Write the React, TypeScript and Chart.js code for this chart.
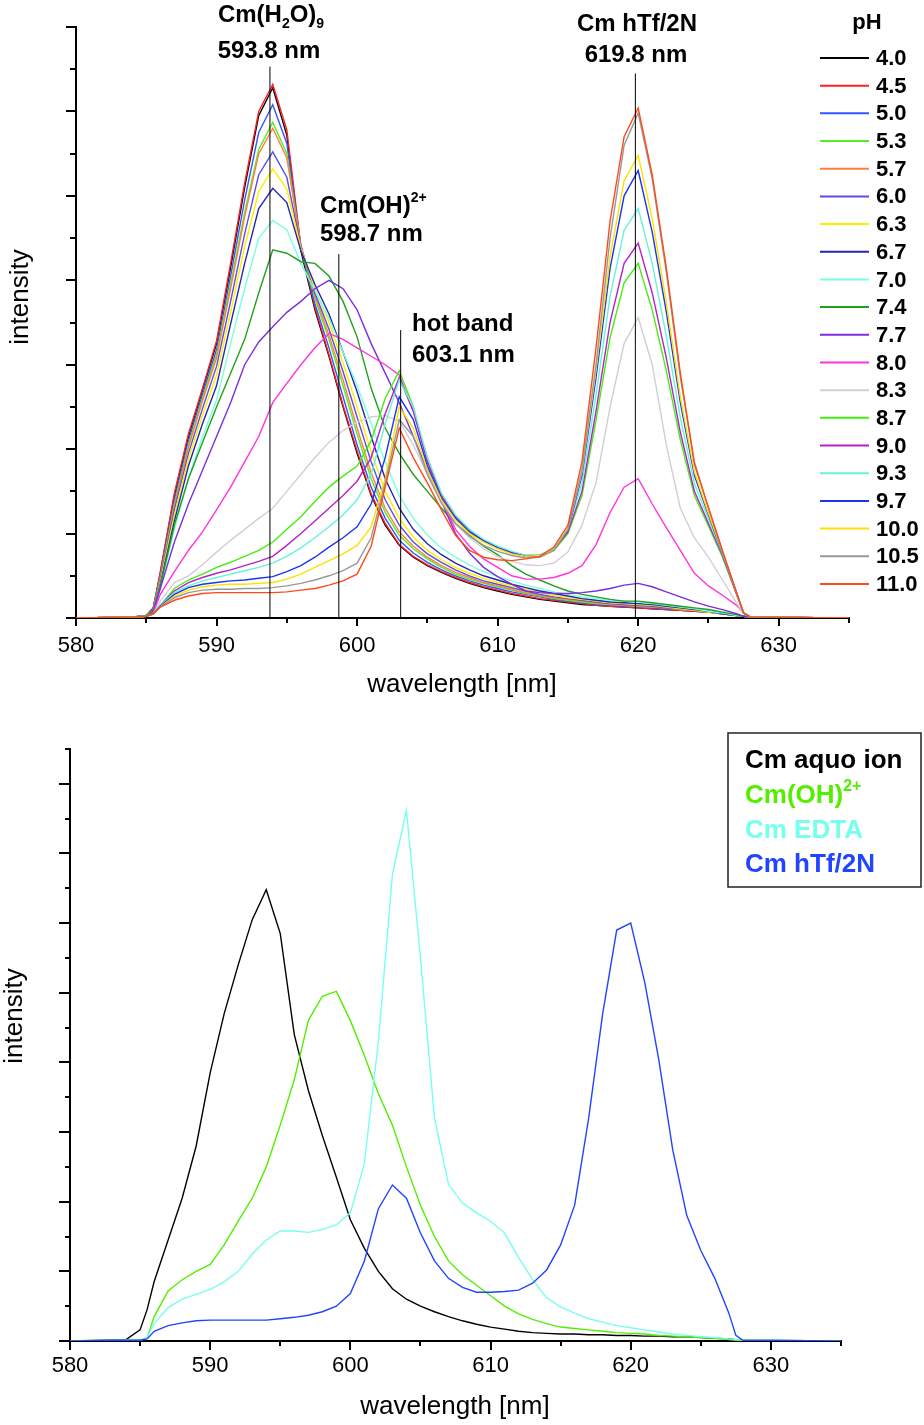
import React, { useEffect, useRef } from 'react';
import { Chart, registerables } from 'chart.js';

Chart.register(...registerables);

const FF = '"Liberation Sans", Arial, Helvetica, sans-serif';

// ---------- shared wavelength grid (nm) ----------
const wavelengths = [
  580, 584, 585, 585.5,
  586, 587, 588, 589, 590, 591, 592, 593, 594, 595,
  596, 597, 598, 599, 600, 601, 602, 603, 604, 605,
  606, 607, 608, 609, 610, 611, 612, 613, 614, 615,
  616, 617, 618, 619, 620, 621, 622, 623, 624, 625,
  626, 627,
  627.5, 628, 635,
];

// ---------- top panel: pH series ----------
const phLabels = ['4.0', '4.5', '5.0', '5.3', '5.7', '6.0', '6.3', '6.7', '7.0', '7.4', '7.7', '8.0', '8.3', '8.7', '9.0', '9.3', '9.7', '10.0', '10.5', '11.0'];
const phColors = ['#000000', '#ff2020', '#3355ff', '#55ee22', '#ff7f3f', '#5a4ee6', '#ffee00', '#2525b5', '#7affe0', '#20a020', '#7a2ee0', '#ff33dd', '#d2ced8', '#44ee11', '#b522c8', '#66f2dd', '#1a35ee', '#ffe000', '#999999', '#ff4a1a'];

const ph40 = [0, 0.01, 0.03, 0.12,
  0.53, 1.45, 2.15, 2.7, 3.25, 4.15, 5.1, 5.95, 6.28, 5.72,
  4.35, 3.65, 3.1, 2.5, 1.95, 1.45, 1.1, 0.86, 0.72, 0.62,
  0.54, 0.47, 0.41, 0.36, 0.32, 0.28, 0.25, 0.22, 0.2, 0.18,
  0.16, 0.15, 0.14, 0.13, 0.12, 0.11, 0.1, 0.09, 0.08, 0.07,
  0.05, 0.03, 0.02, 0.01, 0];
const ph45 = [0, 0.01, 0.03, 0.12,
  0.55, 1.48, 2.18, 2.72, 3.28, 4.2, 5.15, 6.0, 6.32, 5.78,
  4.4, 3.68, 3.12, 2.52, 1.98, 1.47, 1.12, 0.87, 0.73, 0.63,
  0.55, 0.48, 0.42, 0.37, 0.33, 0.29, 0.26, 0.23, 0.21, 0.19,
  0.17, 0.15, 0.14, 0.13, 0.12, 0.11, 0.1, 0.09, 0.08, 0.07,
  0.05, 0.03, 0.02, 0.01, 0];
const ph50 = [0, 0.01, 0.03, 0.11,
  0.5, 1.4, 2.1, 2.65, 3.18, 4.05, 4.95, 5.75, 6.08, 5.62,
  4.4, 3.72, 3.2, 2.62, 2.05, 1.55, 1.18, 0.92, 0.77, 0.66,
  0.57, 0.5, 0.44, 0.39, 0.35, 0.31, 0.28, 0.25, 0.22, 0.2,
  0.18, 0.16, 0.15, 0.14, 0.13, 0.12, 0.11, 0.1, 0.09, 0.07,
  0.05, 0.03, 0.02, 0.01, 0];
const ph53 = [0, 0.01, 0.03, 0.1,
  0.48, 1.35, 2.05, 2.6, 3.12, 3.95, 4.8, 5.55, 5.87, 5.5,
  4.4, 3.78, 3.3, 2.75, 2.18, 1.65, 1.25, 0.98, 0.82, 0.7,
  0.6, 0.52, 0.46, 0.41, 0.37, 0.33, 0.29, 0.26, 0.23, 0.21,
  0.19, 0.17, 0.16, 0.15, 0.14, 0.13, 0.12, 0.1, 0.09, 0.07,
  0.05, 0.03, 0.02, 0.01, 0];
const ph57 = [0, 0.01, 0.03, 0.1,
  0.47, 1.33, 2.02, 2.57, 3.08, 3.9, 4.75, 5.5, 5.8, 5.45,
  4.42, 3.82, 3.35, 2.82, 2.25, 1.72, 1.3, 1.02, 0.85, 0.72,
  0.62, 0.54, 0.48, 0.42, 0.38, 0.34, 0.3, 0.27, 0.24, 0.22,
  0.2, 0.18, 0.16, 0.15, 0.14, 0.13, 0.12, 0.1, 0.09, 0.07,
  0.05, 0.03, 0.02, 0.01, 0];
const ph60 = [0, 0.01, 0.03, 0.1,
  0.45, 1.28, 1.95, 2.48, 2.98, 3.75, 4.55, 5.25, 5.52, 5.22,
  4.4, 3.85, 3.42, 2.92, 2.38, 1.85, 1.4, 1.1, 0.9, 0.76,
  0.66, 0.57, 0.5, 0.44, 0.4, 0.36, 0.32, 0.28, 0.25, 0.23,
  0.21, 0.19, 0.17, 0.16, 0.15, 0.14, 0.12, 0.11, 0.09, 0.07,
  0.05, 0.03, 0.02, 0.01, 0];
const ph63 = [0, 0.01, 0.03, 0.09,
  0.43, 1.22, 1.88, 2.4, 2.88, 3.62, 4.4, 5.05, 5.32, 5.08,
  4.38, 3.9, 3.5, 3.02, 2.5, 1.97, 1.5, 1.18, 0.96, 0.8,
  0.69, 0.6, 0.53, 0.47, 0.42, 0.38, 0.34, 0.3, 0.27, 0.24,
  0.22, 0.2, 0.18, 0.17, 0.16, 0.15, 0.13, 0.11, 0.09, 0.07,
  0.05, 0.03, 0.02, 0.01, 0];
const ph67 = [0, 0.01, 0.03, 0.09,
  0.4, 1.15, 1.8, 2.3, 2.75, 3.48, 4.2, 4.85, 5.09, 4.92,
  4.35, 3.95, 3.6, 3.15, 2.68, 2.15, 1.65, 1.3, 1.05, 0.88,
  0.75, 0.65, 0.57, 0.5, 0.45, 0.4, 0.36, 0.32, 0.29, 0.26,
  0.23, 0.21, 0.19, 0.18, 0.17, 0.16, 0.14, 0.12, 0.1, 0.08,
  0.05, 0.03, 0.02, 0.01, 0];
const ph70 = [0, 0.01, 0.03, 0.08,
  0.37, 1.05, 1.65, 2.15, 2.58, 3.25, 3.9, 4.5, 4.71, 4.6,
  4.2, 3.88, 3.55, 3.15, 2.75, 2.3, 1.85, 1.45, 1.18, 0.98,
  0.83, 0.72, 0.63, 0.55, 0.49, 0.44, 0.39, 0.35, 0.31, 0.28,
  0.25, 0.23, 0.21, 0.2, 0.19, 0.17, 0.15, 0.13, 0.11, 0.08,
  0.06, 0.03, 0.02, 0.01, 0];
const ph74 = [0, 0.01, 0.03, 0.08,
  0.38, 1.1, 1.65, 2.08, 2.5, 2.9, 3.3, 3.85, 4.36, 4.32,
  4.22, 4.2, 4.05, 3.75, 3.33, 2.72, 2.25, 1.95, 1.7, 1.5,
  1.3, 1.12, 0.98, 0.85, 0.75, 0.62, 0.52, 0.45, 0.38, 0.32,
  0.28, 0.25, 0.22, 0.2, 0.2, 0.18, 0.16, 0.14, 0.12, 0.1,
  0.07, 0.04, 0.02, 0.01, 0];
const ph77 = [0, 0.01, 0.02, 0.07,
  0.35, 0.9, 1.35, 1.75, 2.15, 2.55, 3.0, 3.27, 3.45, 3.62,
  3.75, 3.9, 4.0, 3.9, 3.65, 3.25, 2.9, 2.55, 2.15, 1.75,
  1.38, 1.0, 0.77, 0.6, 0.49, 0.4, 0.32, 0.3, 0.29, 0.29,
  0.3, 0.32, 0.35, 0.39, 0.41, 0.37, 0.31, 0.25, 0.19, 0.14,
  0.1, 0.05, 0.02, 0.01, 0];
const ph80 = [0, 0.01, 0.02, 0.06,
  0.28, 0.55, 0.8, 1.02, 1.28, 1.55, 1.85, 2.15, 2.55, 2.78,
  3.0, 3.2, 3.37, 3.3, 3.2, 3.1, 3.0, 2.88, 2.45, 1.9,
  1.4, 1.05, 0.85, 0.7, 0.6, 0.5, 0.46, 0.46, 0.48, 0.53,
  0.62, 0.87, 1.25, 1.55, 1.65, 1.35, 1.07, 0.8, 0.53, 0.38,
  0.27, 0.15, 0.06, 0.01, 0];
const ph83 = [0, 0.01, 0.02, 0.05,
  0.2, 0.42, 0.5, 0.63, 0.78, 0.92, 1.05, 1.18, 1.3, 1.5,
  1.7, 1.9, 2.08, 2.22, 2.32, 2.38, 2.4, 2.33, 2.05, 1.7,
  1.38, 1.12, 0.95, 0.82, 0.73, 0.67, 0.63, 0.62, 0.65, 0.78,
  1.1, 1.6, 2.5, 3.25, 3.56, 3.0, 2.05, 1.3, 0.95, 0.72,
  0.45, 0.18, 0.05, 0.01, 0];
const ph87 = [0, 0.01, 0.02, 0.05,
  0.15, 0.35, 0.45, 0.52, 0.6, 0.66, 0.73, 0.8, 0.9, 1.05,
  1.2, 1.38, 1.55, 1.68, 1.8, 2.1, 2.6, 2.93, 2.5, 1.85,
  1.45, 1.2, 1.03, 0.92, 0.83, 0.77, 0.73, 0.73, 0.8, 1.0,
  1.45, 2.34, 3.32, 3.97, 4.2, 3.65, 2.93, 2.11, 1.45, 1.09,
  0.72, 0.28, 0.06, 0.01, 0];
const ph90 = [0, 0.01, 0.02, 0.05,
  0.15, 0.32, 0.42, 0.48, 0.53, 0.57, 0.62, 0.67, 0.73, 0.86,
  1.0, 1.15, 1.3, 1.45, 1.62, 1.9, 2.42, 2.85, 2.45, 1.85,
  1.45, 1.2, 1.03, 0.92, 0.84, 0.78, 0.74, 0.74, 0.81, 1.02,
  1.5, 2.45, 3.5, 4.2, 4.44, 3.85, 3.08, 2.2, 1.5, 1.12,
  0.74, 0.28, 0.06, 0.01, 0];
const ph93 = [0, 0.01, 0.02, 0.05,
  0.15, 0.3, 0.38, 0.44, 0.48, 0.52, 0.56, 0.6, 0.65, 0.73,
  0.83, 0.95, 1.08, 1.22, 1.4, 1.7, 2.3, 2.82, 2.5, 1.9,
  1.48, 1.22, 1.05, 0.93, 0.85, 0.79, 0.74, 0.75, 0.82, 1.05,
  1.59, 2.64, 3.81, 4.59, 4.85, 4.2, 3.34, 2.37, 1.59, 1.17,
  0.76, 0.3, 0.06, 0.01, 0];
const ph97 = [0, 0.01, 0.02, 0.05,
  0.14, 0.28, 0.36, 0.4, 0.42, 0.44, 0.45, 0.47, 0.49, 0.55,
  0.62, 0.72, 0.84, 0.95, 1.08, 1.35, 1.9, 2.62, 2.35, 1.8,
  1.42, 1.18, 1.02, 0.91, 0.83, 0.77, 0.73, 0.74, 0.81, 1.04,
  1.69, 2.85, 4.14, 5.0, 5.3, 4.57, 3.63, 2.55, 1.69, 1.22,
  0.77, 0.3, 0.06, 0.01, 0];
const ph100 = [0, 0.01, 0.02, 0.05,
  0.13, 0.26, 0.33, 0.37, 0.39, 0.4, 0.4, 0.41, 0.42, 0.46,
  0.52, 0.6, 0.68, 0.76, 0.86, 1.08, 1.65, 2.5, 2.25, 1.75,
  1.4, 1.16, 1.0, 0.9, 0.82, 0.76, 0.73, 0.74, 0.81, 1.06,
  1.73, 2.94, 4.28, 5.18, 5.48, 4.73, 3.74, 2.62, 1.73, 1.24,
  0.78, 0.3, 0.06, 0.01, 0];
const ph105 = [0, 0.01, 0.02, 0.05,
  0.13, 0.24, 0.3, 0.33, 0.34, 0.34, 0.35, 0.35, 0.36, 0.38,
  0.41, 0.45, 0.5, 0.56, 0.65, 0.95, 1.6, 2.35, 2.15, 1.7,
  1.36, 1.12, 0.97, 0.86, 0.79, 0.74, 0.71, 0.72, 0.8, 1.05,
  1.75, 3.0, 4.5, 5.6, 5.98, 5.2, 4.1, 2.85, 1.85, 1.3,
  0.78, 0.3, 0.06, 0.01, 0];
const ph110 = [0, 0.01, 0.02, 0.05,
  0.13, 0.21, 0.26, 0.29, 0.3, 0.3, 0.3, 0.3, 0.3, 0.31,
  0.33, 0.35, 0.39, 0.44, 0.52, 0.85, 1.55, 2.25, 1.9, 1.6,
  1.28, 0.98, 0.8, 0.72, 0.69, 0.68, 0.7, 0.73, 0.84, 1.1,
  1.85, 3.2, 4.7, 5.7, 6.04, 5.25, 4.15, 2.9, 1.82, 1.31,
  0.8, 0.3, 0.06, 0.01, 0];

const phSeries = [ph40, ph45, ph50, ph53, ph57, ph60, ph63, ph67, ph70, ph74, ph77, ph80, ph83, ph87, ph90, ph93, ph97, ph100, ph105, ph110];

// marker lines (wavelength, top of line in intensity units)
const markerWavelengths = [593.8, 598.7, 603.1, 619.8];
const markerHeights = [6.53, 4.31, 3.41, 6.45];

// ---------- bottom panel: component spectra ----------
const compLabels = ['Cm aquo ion', 'Cm(OH)', 'Cm EDTA', 'Cm hTf/2N'];
const compColors = ['#000000', '#55ee00', '#77ffee', '#2244ff'];

const aquo = [0, 0.02, 0.16, 0.45,
  0.85, 1.45, 2.05, 2.8, 3.85, 4.7, 5.4, 6.05, 6.48, 5.85,
  4.4, 3.6, 2.95, 2.35, 1.74, 1.33, 1.0, 0.75, 0.6, 0.5,
  0.42, 0.35, 0.29, 0.24, 0.2, 0.17, 0.14, 0.12, 0.11, 0.1,
  0.1, 0.09, 0.09, 0.08, 0.08, 0.07, 0.07, 0.06, 0.06, 0.05,
  0.04, 0.03, 0.02, 0.01, 0];
const hydroxo = [0, 0.01, 0.02, 0.04,
  0.35, 0.72, 0.88, 1.0, 1.1, 1.38, 1.72, 2.05, 2.5, 3.1,
  3.75, 4.6, 4.95, 5.02, 4.6, 4.1, 3.55, 3.1, 2.5, 1.95,
  1.5, 1.15, 0.95, 0.8, 0.65, 0.5, 0.39, 0.31, 0.25, 0.2,
  0.18, 0.16, 0.14, 0.12, 0.11, 0.1, 0.08, 0.07, 0.06, 0.05,
  0.04, 0.02, 0.01, 0.01, 0];
const edta = [0, 0.01, 0.01, 0.05,
  0.25, 0.48, 0.6, 0.67, 0.74, 0.85, 1.0, 1.25, 1.45, 1.58,
  1.58, 1.56, 1.6, 1.67, 1.84, 2.55, 4.3, 6.7, 7.62, 5.5,
  3.2, 2.25, 1.98, 1.84, 1.72, 1.55, 1.2, 0.88, 0.62, 0.49,
  0.4, 0.32, 0.27, 0.22, 0.19, 0.16, 0.13, 0.1, 0.08, 0.06,
  0.05, 0.03, 0.02, 0.01, 0];
const htf = [0, 0.01, 0.01, 0.03,
  0.14, 0.22, 0.26, 0.29, 0.3, 0.3, 0.3, 0.3, 0.3, 0.32,
  0.34, 0.37, 0.42, 0.5, 0.68, 1.15, 1.9, 2.24, 2.05, 1.55,
  1.15, 0.9, 0.77, 0.7, 0.7, 0.71, 0.73, 0.83, 1.02, 1.38,
  1.95, 3.2, 4.7, 5.9, 6.0, 5.15, 4.04, 2.74, 1.8, 1.3,
  0.9, 0.4, 0.08, 0.01, 0];

const compSeries = [aquo, hydroxo, edta, htf];

// ---------- axes ----------
const xTickValues = [580, 585, 590, 595, 600, 605, 610, 615, 620, 625, 630, 635];
const topYTickValues = [0, 0.5, 1, 1.5, 2, 2.5, 3, 3.5, 4, 4.5, 5, 5.5, 6, 6.5, 7];
const botYTickValues = [0, 0.5, 1, 1.5, 2, 2.5, 3, 3.5, 4, 4.5, 5, 5.5, 6, 6.5, 7, 7.5, 8, 8.5];
const xTitle = 'wavelength [nm]';
const yTitle = 'intensity';

type Seg = { t: string; k?: 'sub' | 'sup' };

function drawRich(ctx: any, segs: Seg[], x: number, y: number, align: 'left' | 'center', size: number, color: string) {
  const big = `bold ${size}px ${FF}`;
  const small = `bold ${Math.round(size * 0.6)}px ${FF}`;
  let w = 0;
  for (const s of segs) {
    ctx.font = s.k ? small : big;
    w += ctx.measureText(s.t).width;
  }
  let cx = align === 'center' ? x - w / 2 : x;
  ctx.textAlign = 'left';
  ctx.textBaseline = 'alphabetic';
  ctx.fillStyle = color;
  for (const s of segs) {
    ctx.font = s.k ? small : big;
    const dy = s.k === 'sub' ? size * 0.27 : s.k === 'sup' ? -size * 0.45 : 0;
    ctx.fillText(s.t, cx, y + dy);
    cx += ctx.measureText(s.t).width;
  }
}

function axisDecor(o: { yTicks: number[]; yMajor: number; yMinor: number; xMajor: number; xMinor: number; xTitlePos: [number, number]; yTitlePos: [number, number] }) {
  return {
    id: 'axisDecor',
    afterDraw(chart: any) {
      const { ctx, chartArea, scales } = chart;
      ctx.save();
      ctx.strokeStyle = '#000';
      ctx.lineWidth = 2;
      ctx.beginPath();
      for (const v of o.yTicks) {
        const py = Math.round(scales.y.getPixelForValue(v));
        const len = Math.abs(v - Math.round(v)) < 1e-9 ? o.yMajor : o.yMinor;
        ctx.moveTo(chartArea.left, py);
        ctx.lineTo(chartArea.left - len, py);
      }
      for (const v of xTickValues) {
        const px = Math.round(scales.x.getPixelForValue(v));
        const len = v % 10 === 0 ? o.xMajor : o.xMinor;
        ctx.moveTo(px, chartArea.bottom);
        ctx.lineTo(px, chartArea.bottom + len);
      }
      ctx.stroke();
      ctx.fillStyle = '#000';
      ctx.font = `26px ${FF}`;
      ctx.textAlign = 'center';
      ctx.textBaseline = 'alphabetic';
      ctx.fillText(xTitle, o.xTitlePos[0], o.xTitlePos[1]);
      ctx.translate(o.yTitlePos[0], o.yTitlePos[1]);
      ctx.rotate(-Math.PI / 2);
      ctx.textBaseline = 'middle';
      ctx.fillText(yTitle, 0, 0);
      ctx.restore();
    },
  };
}

const topDecor = {
  id: 'topDecor',
  afterDraw(chart: any) {
    const ctx = chart.ctx;
    ctx.save();
    drawRich(ctx, [{ t: 'Cm(H' }, { t: '2', k: 'sub' }, { t: 'O)' }, { t: '9', k: 'sub' }], 271, 22, 'center', 24, '#000');
    drawRich(ctx, [{ t: '593.8 nm' }], 269, 58, 'center', 24, '#000');
    drawRich(ctx, [{ t: 'Cm(OH)' }, { t: '2+', k: 'sup' }], 320, 213, 'left', 24, '#000');
    drawRich(ctx, [{ t: '598.7 nm' }], 320, 241, 'left', 24, '#000');
    drawRich(ctx, [{ t: 'hot band' }], 412, 331, 'left', 24, '#000');
    drawRich(ctx, [{ t: '603.1 nm' }], 412, 362, 'left', 24, '#000');
    drawRich(ctx, [{ t: 'Cm hTf/2N' }], 637, 31, 'center', 24, '#000');
    drawRich(ctx, [{ t: '619.8 nm' }], 636, 62, 'center', 24, '#000');
    // legend
    ctx.font = `bold 22px ${FF}`;
    ctx.fillStyle = '#000';
    ctx.textAlign = 'center';
    ctx.textBaseline = 'alphabetic';
    ctx.fillText('pH', 867, 29);
    phLabels.forEach((lab, i) => {
      const y = 58 + i * 27.68;
      ctx.strokeStyle = phColors[i];
      ctx.lineWidth = 2;
      ctx.beginPath();
      ctx.moveTo(820, y);
      ctx.lineTo(869, y);
      ctx.stroke();
      ctx.fillStyle = '#000';
      ctx.textAlign = 'left';
      ctx.textBaseline = 'middle';
      ctx.font = `bold 22px ${FF}`;
      ctx.fillText(lab, 876, y + 1);
    });
    ctx.restore();
  },
};

const bottomDecor = {
  id: 'bottomDecor',
  afterDraw(chart: any) {
    const ctx = chart.ctx;
    ctx.save();
    ctx.strokeStyle = '#222';
    ctx.lineWidth = 1.5;
    ctx.strokeRect(728, 33, 193, 154);
    const ys = [68, 103, 138, 172];
    compLabels.forEach((lab, i) => {
      const segs: Seg[] = i === 1 ? [{ t: lab }, { t: '2+', k: 'sup' }] : [{ t: lab }];
      drawRich(ctx, segs, 745, ys[i], 'left', 26, compColors[i]);
    });
    ctx.restore();
  },
};

function pts(vals: number[]) {
  return wavelengths.map((x, i) => ({ x, y: vals[i] }));
}

function makeOptions(p: { padRight: number; padTop: number; yWidth: number; xHeight: number; yMax: number; labelPad: number }) {
  return {
    responsive: false,
    animation: false,
    events: [],
    layout: { padding: { left: 0, right: p.padRight, top: p.padTop, bottom: 0 } },
    plugins: { legend: { display: false }, tooltip: { enabled: false }, title: { display: false } },
    elements: { point: { radius: 0 }, line: { tension: 0 } },
    scales: {
      x: {
        type: 'linear',
        min: 580,
        max: 635,
        grid: { display: false, drawTicks: false },
        border: { display: true, color: '#000', width: 2 },
        ticks: {
          stepSize: 5,
          autoSkip: false,
          maxRotation: 0,
          padding: p.labelPad,
          color: '#000',
          font: { family: FF, size: 22 },
          callback: (v: any) => (Number(v) % 10 === 0 ? String(v) : ''),
        },
        afterFit: (s: any) => {
          s.height = p.xHeight;
        },
      },
      y: {
        type: 'linear',
        min: 0,
        max: p.yMax,
        grid: { display: false, drawTicks: false },
        border: { display: true, color: '#000', width: 2 },
        ticks: { display: false },
        afterFit: (s: any) => {
          s.width = p.yWidth;
        },
      },
    },
  };
}

export default function App() {
  const topRef = useRef<HTMLCanvasElement>(null);
  const botRef = useRef<HTMLCanvasElement>(null);

  useEffect(() => {
    const phSets = phSeries.map((vals, i) => ({
      label: 'pH ' + phLabels[i],
      data: pts(vals),
      borderColor: phColors[i],
      borderWidth: 1.4,
      pointRadius: 0,
      fill: false,
      order: phSeries.length - i + 1,
    }));
    const markerSets = markerWavelengths.map((w, i) => ({
      label: 'marker ' + w,
      data: [{ x: w, y: 0 }, { x: w, y: markerHeights[i] }],
      borderColor: '#000',
      borderWidth: 1,
      pointRadius: 0,
      fill: false,
      order: 0,
    }));
    const top = new Chart(topRef.current as any, {
      type: 'line',
      data: { datasets: [...phSets, ...markerSets] as any },
      options: makeOptions({ padRight: 75, padTop: 27, yWidth: 76, xHeight: 82, yMax: 7, labelPad: 15 }) as any,
      plugins: [axisDecor({ yTicks: topYTickValues, yMajor: 10, yMinor: 6, xMajor: 8, xMinor: 5, xTitlePos: [462, 692], yTitlePos: [21, 297] }), topDecor],
    });

    const compSets = compSeries.map((vals, i) => ({
      label: compLabels[i],
      data: pts(vals),
      borderColor: compColors[i],
      borderWidth: 1.4,
      pointRadius: 0,
      fill: false,
      order: compSeries.length - i,
    }));
    const bot = new Chart(botRef.current as any, {
      type: 'line',
      data: { datasets: compSets as any },
      options: makeOptions({ padRight: 83, padTop: 49, yWidth: 70, xHeight: 84, yMax: 8.5, labelPad: 12 }) as any,
      plugins: [axisDecor({ yTicks: botYTickValues, yMajor: 11, yMinor: 5, xMajor: 9, xMinor: 5, xTitlePos: [455, 714], yTitlePos: [15, 316] }), bottomDecor],
    });

    return () => {
      top.destroy();
      bot.destroy();
    };
  }, []);

  return (
    <div style={{ position: 'absolute', left: 0, top: 0, width: 924, height: 1425, background: '#fff' }}>
      <div style={{ position: 'absolute', left: 0, top: 0, width: 924, height: 700 }}>
        <canvas ref={topRef} width={924} height={700} style={{ width: 924, height: 700, display: 'block' }} />
      </div>
      <div style={{ position: 'absolute', left: 0, top: 700, width: 924, height: 725 }}>
        <canvas ref={botRef} width={924} height={725} style={{ width: 924, height: 725, display: 'block' }} />
      </div>
    </div>
  );
}
